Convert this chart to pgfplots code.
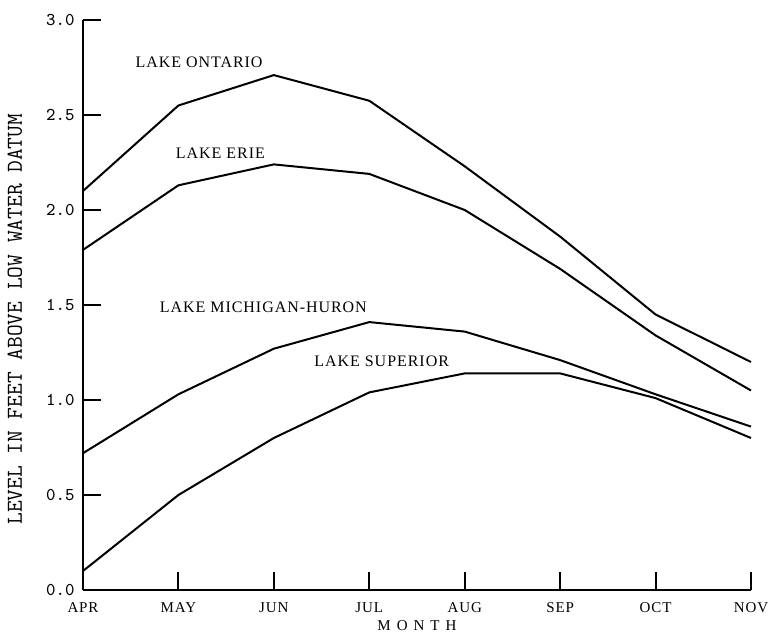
\documentclass[border=0pt]{standalone}
\usepackage{fontspec}
\setmainfont{Liberation Serif}
\newfontfamily\lakefont[LetterSpace=6]{Liberation Serif}
\newfontfamily\monthfont[LetterSpace=6]{Liberation Serif}
\newfontfamily\wideonefont[LetterSpace=40]{Liberation Serif}
\usepackage{pgfplots}
\pgfplotsset{compat=1.18}

% monthly mean levels, feet above low water datum (x: 0=APR ... 7=NOV)
\pgfplotstableread{
m  ontario erie  michigan superior
0  2.10    1.79  0.72     0.10
1  2.55    2.13  1.03     0.50
2  2.71    2.24  1.27     0.80
3  2.575   2.19  1.41     1.04
4  2.23    2.00  1.36     1.14
5  1.86    1.69  1.21     1.14
6  1.45    1.34  1.03     1.01
7  1.20    1.05  0.86     0.80
}\levels

\begin{document}
\begin{tikzpicture}
\begin{axis}[
    scale only axis,
    width=334pt, height=285pt,
    xmin=0, xmax=7, ymin=0, ymax=3,
    axis x line*=bottom,
    axis y line*=left,
    axis line style={line width=1pt},
    xtick={0,...,7},
    xticklabels={APR,MAY,JUN,JUL,AUG,SEP,OCT,NOV},
    ytick={0,0.5,...,3},
    tick align=inside,
    major tick length=9pt,
    tick style={line width=1pt, black},
    /pgf/number format/assume math mode=true,
    /pgf/number format/fixed,
    /pgf/number format/fixed zerofill,
    /pgf/number format/precision=1,
    yticklabel style={font=\ttfamily\fontsize{9}{10}\selectfont, anchor=east, inner sep=0pt, xshift=-4pt},
    xticklabel style={font=\monthfont\fontsize{7.5}{9}\selectfont, anchor=center, inner sep=0pt, yshift=-9pt},
    xlabel={MONTH},
    xlabel style={font=\wideonefont\fontsize{7.5}{9}\selectfont, at={(axis description cs:0.5,-0.062)}, anchor=center, inner sep=0pt},
    ylabel={LEVEL IN FEET ABOVE LOW WATER DATUM},
    ylabel style={font=\ttfamily\fontsize{11.4}{13}\selectfont, at={(axis description cs:-0.102,0.475)}, anchor=center, inner sep=0pt},
    clip=false,
]
\addplot[black, line width=1pt, no markers] table[x=m, y=ontario] {\levels};
\addplot[black, line width=1pt, no markers] table[x=m, y=erie] {\levels};
\addplot[black, line width=1pt, no markers] table[x=m, y=michigan] {\levels};
\addplot[black, line width=1pt, no markers] table[x=m, y=superior] {\levels};

\node[font=\lakefont\fontsize{8}{9}\selectfont] at (axis cs:1.216,2.78) {LAKE ONTARIO};
\node[font=\lakefont\fontsize{8}{9}\selectfont] at (axis cs:1.44,2.30) {LAKE ERIE};
\node[font=\lakefont\fontsize{8}{9}\selectfont] at (axis cs:1.89,1.49) {LAKE MICHIGAN-HURON};
\node[font=\lakefont\fontsize{8}{9}\selectfont] at (axis cs:3.13,1.205) {LAKE SUPERIOR};
\end{axis}
\pgfresetboundingbox
\path[use as bounding box] ([xshift=-41.5pt,yshift=-21.5pt]current axis.south west) rectangle ([xshift=8.5pt,yshift=10pt]current axis.north east);
\end{tikzpicture}
\end{document}
